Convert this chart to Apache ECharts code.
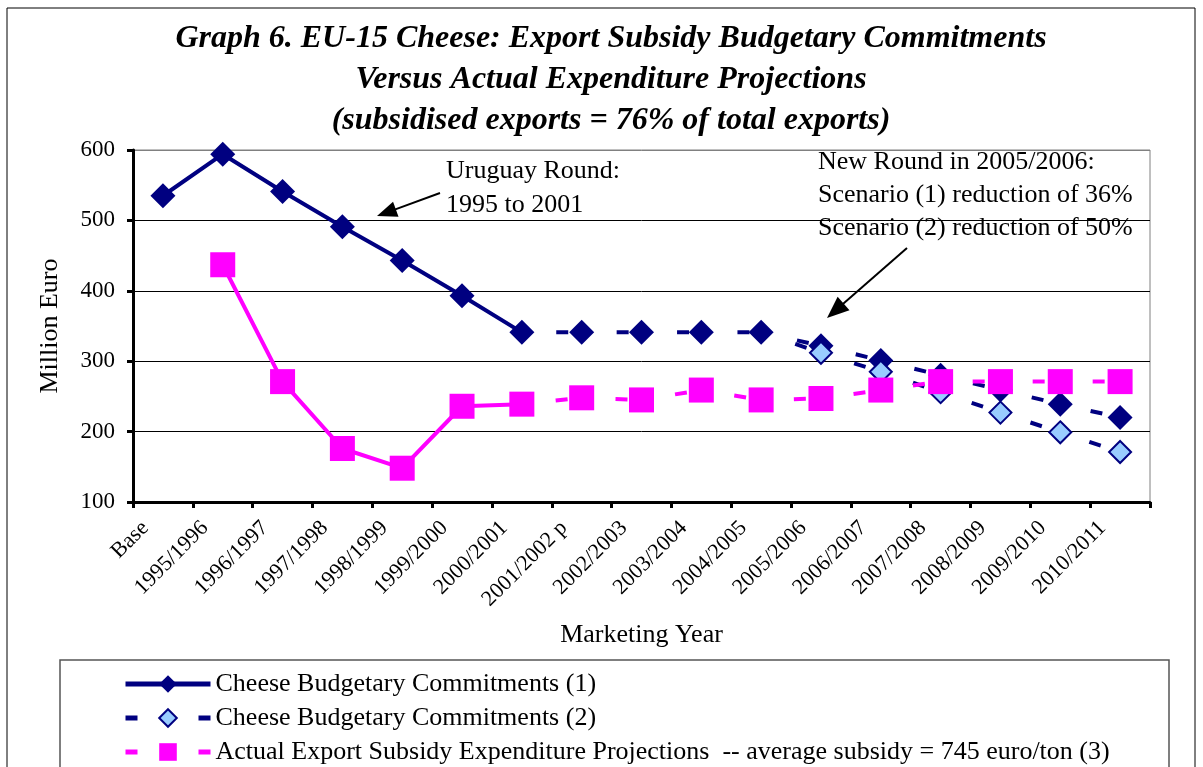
<!DOCTYPE html>
<html>
<head>
<meta charset="utf-8">
<script src="https://cdn.jsdelivr.net/npm/echarts@6/dist/echarts.min.js"></script>
<style>
  html, body { margin: 0; padding: 0; background: #fff; }
  #root { width: 1203px; height: 767px; }
</style>
</head>
<body>
<div id="root"></div>
<script>
// marketing years on the x axis
var categories = ['Base', '1995/1996', '1996/1997', '1997/1998', '1998/1999', '1999/2000',
  '2000/2001', '2001/2002 p', '2002/2003', '2003/2004', '2004/2005', '2005/2006',
  '2006/2007', '2007/2008', '2008/2009', '2009/2010', '2010/2011'];

// Cheese Budgetary Commitments (1) - million euro
var commitments1 = [535, 594, 541, 491, 443, 393, 341, 341, 341, 341, 341, 322, 301, 280, 259, 239, 220];
// Cheese Budgetary Commitments (2) - starts at 2004/2005
var commitments2 = [null, null, null, null, null, null, null, null, null, null, 341, 312, 285, 256, 227, 199, 171];
// Actual export subsidy expenditure projections
var expenditure = [null, 437, 271, 176, 148, 236, 239, 248, 245, 259, 245, 247, 259, 271, 271, 271, 271];

var yTicks = [100, 200, 300, 400, 500, 600];

// index of 2000/2001: solid line up to here, dashed after
var lastActual = 6;

var navy = '#000080', magenta = '#FF00FF', lightBlue = '#99CCFF';
var serif = '"Liberation Serif", "Times New Roman", serif';

function part(arr, from, to) {
  return arr.map(function (v, i) {
    return (i >= from && i <= to && v != null) ? v : '-';
  });
}

var s2data = commitments2.map(function (v, i) {
  if (v == null) return '-';
  if (i === 10) return { value: v, symbol: 'none' };
  return v;
});

function arrow(x1, y1, x2, y2, len, half) {
  var dx = x2 - x1, dy = y2 - y1, d = Math.sqrt(dx * dx + dy * dy);
  var ux = dx / d, uy = dy / d;
  var bx = x2 - ux * len, by = y2 - uy * len;
  return [
    { type: 'line', shape: { x1: x1, y1: y1, x2: bx + ux * 2, y2: by + uy * 2 }, style: { stroke: '#000', lineWidth: 2 } },
    { type: 'polygon', shape: { points: [[x2, y2], [bx - uy * half, by + ux * half], [bx + uy * half, by - ux * half]] }, style: { fill: '#000' } }
  ];
}

function label(text, x, y) {
  return { type: 'text', x: x, y: y, style: { text: text, fontFamily: serif, fontSize: 26, fill: '#000', verticalAlign: 'middle' } };
}

var chart = echarts.init(document.getElementById('root'));

var legendDash = { type: [12, 61], dashOffset: 0, width: 5 };

var option = {
  backgroundColor: '#fff',
  animation: false,
  title: {
    text: 'Graph 6. EU-15 Cheese: Export Subsidy Budgetary Commitments\nVersus Actual Expenditure Projections\n(subsidised exports = 76% of total exports)',
    left: 611,
    top: 18,
    padding: 0,
    textAlign: 'center',
    textStyle: { fontFamily: serif, fontSize: 32, fontWeight: 'bold', fontStyle: 'italic', color: '#000', lineHeight: 41 }
  },
  grid: {
    left: 133, right: 53, top: 150, bottom: 265,
    show: true, borderColor: '#808080', borderWidth: 1, backgroundColor: 'transparent'
  },
  legend: {
    left: 123,
    top: 671,
    orient: 'vertical',
    itemWidth: 85,
    itemHeight: 22,
    itemGap: 8,
    selectedMode: false,
    padding: 0,
    textStyle: { fontFamily: serif, fontSize: 26, color: '#000', lineHeight: 26 },
    data: [
      { name: 'Cheese Budgetary Commitments (1)', lineStyle: { width: 5 } },
      { name: 'Cheese Budgetary Commitments (2)', lineStyle: legendDash },
      { name: 'Actual Export Subsidy Expenditure Projections  -- average subsidy = 745 euro/ton (3)', lineStyle: legendDash }
    ]
  },
  xAxis: {
    type: 'category',
    data: categories,
    boundaryGap: true,
    name: 'Marketing Year',
    nameLocation: 'middle',
    nameGap: 120,
    nameTextStyle: { fontFamily: serif, fontSize: 26, color: '#000' },
    axisLine: { lineStyle: { color: '#000', width: 3 } },
    axisTick: { show: true, inside: false, length: 6, lineStyle: { color: '#000', width: 3 } },
    axisLabel: { interval: 0, rotate: 45, margin: 5, padding: [0, 25, 0, 0], fontFamily: serif, fontSize: 22, color: '#000' },
    splitLine: { show: false }
  },
  yAxis: {
    type: 'value',
    min: yTicks[0],
    max: yTicks[yTicks.length - 1],
    interval: 100,
    name: 'Million Euro',
    nameLocation: 'middle',
    nameGap: 70,
    nameRotate: 90,
    nameTextStyle: { fontFamily: serif, fontSize: 26, color: '#000' },
    axisLine: { show: true, lineStyle: { color: '#000', width: 3 } },
    axisTick: { show: true, inside: false, length: 6, lineStyle: { color: '#000', width: 3 } },
    axisLabel: { margin: 18, fontFamily: serif, fontSize: 23, color: '#000' },
    splitLine: { show: true, lineStyle: { color: ['#000', '#000', '#000', '#000', '#000', '#808080'], width: 1 } }
  },
  series: [
    {
      name: 'Cheese Budgetary Commitments (1)',
      type: 'line',
      data: part(commitments1, 0, lastActual),
      symbol: 'diamond', symbolSize: 25,
      lineStyle: { color: navy, width: 4 },
      itemStyle: { color: navy },
      z: 3, silent: true
    },
    {
      name: 'c1 projection',
      type: 'line',
      data: part(commitments1, lastActual, 16).map(function (v, i) { return i === lastActual ? { value: v, symbol: 'none' } : v; }),
      symbol: 'diamond', symbolSize: 25,
      lineStyle: { color: navy, width: 4, type: [12, 48.4], dashOffset: 26 },
      itemStyle: { color: navy },
      z: 3, silent: true
    },
    {
      name: 'Cheese Budgetary Commitments (2)',
      type: 'line',
      data: s2data,
      symbol: 'diamond', symbolSize: 22,
      lineStyle: { color: navy, width: 4, type: [12, 50], dashOffset: 26 },
      itemStyle: { color: lightBlue, borderColor: navy, borderWidth: 2 },
      z: 4, silent: true
    },
    {
      name: 'Actual Export Subsidy Expenditure Projections  -- average subsidy = 745 euro/ton (3)',
      type: 'line',
      data: part(expenditure, 0, lastActual),
      symbol: 'rect', symbolSize: 25,
      lineStyle: { color: magenta, width: 4 },
      itemStyle: { color: magenta },
      z: 5, silent: true
    },
    {
      name: 'exp projection',
      type: 'line',
      data: part(expenditure, lastActual, 16).map(function (v, i) { return i === lastActual ? { value: v, symbol: 'none' } : v; }),
      symbol: 'rect', symbolSize: 25,
      lineStyle: { color: magenta, width: 4, type: [12, 48], dashOffset: 26 },
      itemStyle: { color: magenta },
      z: 5, silent: true
    }
  ],
  graphic: {
    elements: [
      { type: 'rect', shape: { x: 7, y: 8, width: 1188, height: 800 }, style: { fill: null, stroke: '#000', lineWidth: 1 }, z: -1 },
      { type: 'rect', shape: { x: 60, y: 660, width: 1109, height: 150 }, style: { fill: null, stroke: '#555', lineWidth: 1.5 }, z: -1 },
      label('Uruguay Round:', 446, 171),
      label('1995 to 2001', 446, 205),
      label('New Round in 2005/2006:', 818, 162),
      label('Scenario (1) reduction of 36%', 818, 195),
      label('Scenario (2) reduction of 50%', 818, 228)
    ].concat(arrow(440, 193, 377, 216, 20, 8)).concat(arrow(907, 248, 827, 318, 22, 9))
  }
};

chart.setOption(option);
window.addEventListener('resize', chart.resize);
</script>
</body>
</html>
